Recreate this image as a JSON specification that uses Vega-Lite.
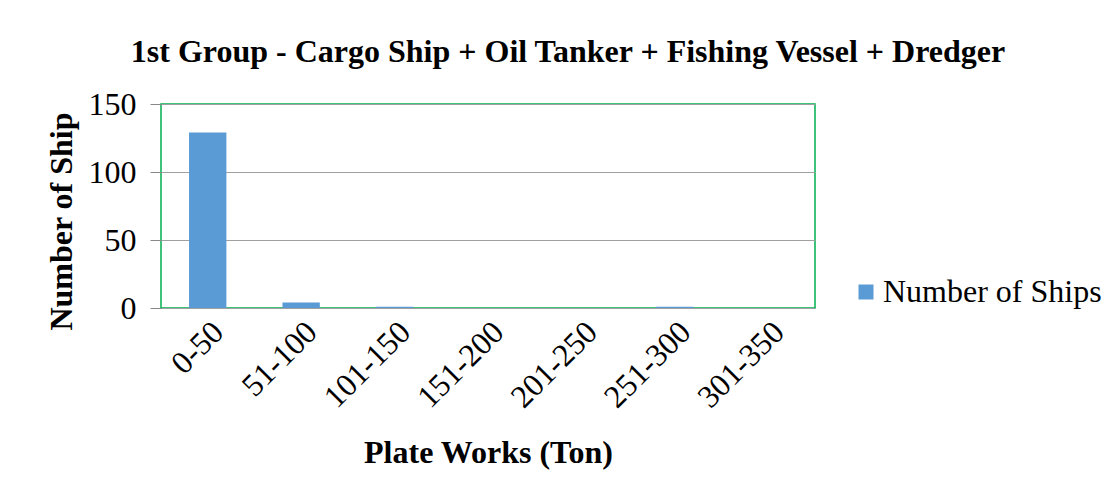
{
  "$schema": "https://vega.github.io/schema/vega-lite/v6.json",
  "autosize": {"type": "none"},
  "padding": {"left": 161, "top": 104, "right": 298, "bottom": 192},
  "width": 654,
  "height": 204,
  "background": "white",
  "title": {
    "text": "1st Group - Cargo Ship + Oil Tanker + Fishing Vessel + Dredger",
    "font": "Liberation Serif",
    "fontSize": 32,
    "fontWeight": "bold",
    "color": "black",
    "anchor": "middle",
    "frame": "group",
    "dx": 80,
    "offset": 19
  },
  "data": {
    "values": [
      {"range": "0-50", "ships": 129},
      {"range": "51-100", "ships": 4},
      {"range": "101-150", "ships": 1},
      {"range": "151-200", "ships": 0},
      {"range": "201-250", "ships": 0},
      {"range": "251-300", "ships": 1},
      {"range": "301-350", "ships": 0}
    ]
  },
  "mark": {"type": "bar", "color": "#5b9bd5"},
  "encoding": {
    "x": {
      "field": "range",
      "type": "nominal",
      "sort": null,
      "scale": {"paddingInner": 0.6, "paddingOuter": 0.3},
      "axis": {
        "title": "Plate Works (Ton)",
        "titleFont": "Liberation Serif",
        "titleFontSize": 32,
        "titleFontWeight": "bold",
        "titleColor": "black",
        "titlePadding": 24,
        "labelFont": "Liberation Serif",
        "labelFontSize": 32,
        "labelColor": "black",
        "labelAngle": -45,
        "labelPadding": 8,
        "ticks": false,
        "domain": false
      }
    },
    "y": {
      "field": "ships",
      "type": "quantitative",
      "scale": {"domain": [0, 150]},
      "axis": {
        "values": [0, 50, 100, 150],
        "title": "Number of Ship",
        "titleFont": "Liberation Serif",
        "titleFontSize": 32,
        "titleFontWeight": "bold",
        "titleColor": "black",
        "titlePadding": 10,
        "titleY": 117,
        "labelFont": "Liberation Serif",
        "labelFontSize": 32,
        "labelColor": "black",
        "labelPadding": 14,
        "tickColor": "#888888",
        "tickSize": 11,
        "domain": false,
        "gridColor": "#a0a0a0",
        "gridWidth": 1
      }
    },
    "color": {
      "datum": "Number of Ships",
      "type": "nominal",
      "scale": {"range": ["#5b9bd5"]},
      "legend": {
        "title": null,
        "orient": "none",
        "legendX": 689,
        "legendY": 172,
        "symbolType": "square",
        "symbolSize": 225,
        "symbolStrokeWidth": 0,
        "labelFont": "Liberation Serif",
        "labelFontSize": 32,
        "labelColor": "black",
        "labelOffset": 1,
        "labelLimit": 400
      }
    }
  },
  "config": {
    "view": {"stroke": "#00b050", "strokeWidth": 1.5}
  }
}
